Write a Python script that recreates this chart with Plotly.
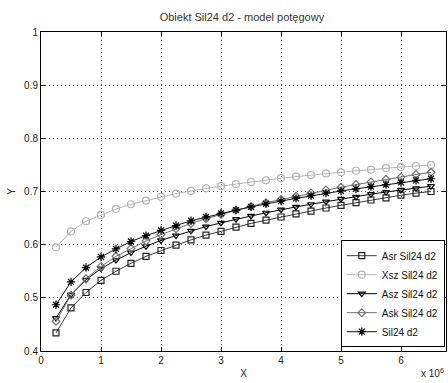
import plotly.graph_objects as go

x_vals = [250000 * k for k in range(1, 27)]

asr = [0.434, 0.481, 0.510, 0.533, 0.550, 0.565, 0.578, 0.589, 0.599, 0.609, 0.618, 0.625, 0.633,
       0.640, 0.646, 0.652, 0.658, 0.663, 0.669, 0.674, 0.679, 0.684, 0.688, 0.693, 0.697, 0.700]
xsz = [0.595, 0.625, 0.644, 0.656, 0.667, 0.676, 0.683, 0.690, 0.696, 0.701, 0.706, 0.710, 0.714,
       0.718, 0.721, 0.725, 0.728, 0.731, 0.734, 0.736, 0.739, 0.741, 0.744, 0.746, 0.748, 0.750]
asz = [0.462, 0.506, 0.534, 0.555, 0.571, 0.585, 0.597, 0.608, 0.617, 0.626, 0.634, 0.641, 0.648,
       0.654, 0.660, 0.666, 0.671, 0.676, 0.681, 0.686, 0.690, 0.695, 0.699, 0.703, 0.706, 0.710]
ask = [0.456, 0.505, 0.536, 0.559, 0.578, 0.593, 0.607, 0.619, 0.630, 0.640, 0.649, 0.657, 0.665,
       0.672, 0.679, 0.685, 0.691, 0.697, 0.703, 0.708, 0.713, 0.718, 0.723, 0.727, 0.732, 0.736]
sil = [0.487, 0.530, 0.557, 0.577, 0.592, 0.606, 0.617, 0.627, 0.636, 0.645, 0.652, 0.659, 0.665,
       0.671, 0.677, 0.682, 0.687, 0.692, 0.697, 0.701, 0.705, 0.709, 0.713, 0.717, 0.721, 0.724]

names = ["Asr Sil24 d2", "Xsz Sil24 d2", "Asz Sil24 d2", "Ask Sil24 d2", "Sil24 d2"]
x_ticks = [0, 1000000, 2000000, 3000000, 4000000, 5000000, 6000000]
x_tick_labels = ["0", "1", "2", "3", "4", "5", "6"]
y_ticks = [0.4, 0.5, 0.6, 0.7, 0.8, 0.9, 1.0]
y_tick_labels = ["0.4", "0.5", "0.6", "0.7", "0.8", "0.9", "1"]

styles = [
    dict(line="#3a3a3a", msym="square-open", mcol="#222222", msize=6),
    dict(line="#b4b4b4", msym="circle-open", mcol="#b4b4b4", msize=7),
    dict(line="#000000", msym="triangle-down-open", mcol="#000000", msize=6),
    dict(line="#6e6e6e", msym="diamond-open", mcol="#6e6e6e", msize=6),
    dict(line="#111111", msym="asterisk-open", mcol="#000000", msize=7),
]

fig = go.Figure()
for name, ys, st in zip(names, [asr, xsz, asz, ask, sil], styles):
    fig.add_trace(go.Scatter(
        x=x_vals, y=ys, name=name, mode="lines+markers",
        line=dict(color=st["line"], width=1),
        marker=dict(symbol=st["msym"], size=st["msize"], color=st["mcol"],
                    line=dict(color=st["mcol"], width=1.2)),
    ))

font_family = "Liberation Sans, Arial, sans-serif"
axis_common = dict(
    showline=True, linecolor="black", linewidth=1, mirror="ticks",
    ticks="inside", ticklen=4, tickcolor="black",
    showgrid=True, gridcolor="#555555", gridwidth=1, griddash="1px,3px",
    zeroline=False, tickfont=dict(size=10, color="#222222", family=font_family),
)

fig.update_layout(
    width=448, height=383,
    margin=dict(l=41, r=2, t=32, b=32),
    paper_bgcolor="white", plot_bgcolor="white",
    font=dict(family=font_family, size=10, color="#222222"),
    title=dict(text="Obiekt Sil24 d2 - model potęgowy", x=0.54, xanchor="center",
               y=0.955, yanchor="middle", font=dict(size=11, color="#333333")),
    xaxis=dict(range=[0, 6750000], tickvals=x_ticks, ticktext=x_tick_labels,
               title=dict(text="X", standoff=4, font=dict(size=10)), **axis_common),
    yaxis=dict(range=[0.4, 1.0], tickvals=y_ticks, ticktext=y_tick_labels,
               title=dict(text="Y", standoff=6, font=dict(size=10)), **axis_common),
    legend=dict(x=0.997, y=0.012, xanchor="right", yanchor="bottom",
                bgcolor="white", bordercolor="black", borderwidth=1,
                font=dict(size=10, color="#111111", family=font_family),
                tracegroupgap=0, itemwidth=30),
    showlegend=True,
)

fig.add_annotation(text="x 10<sup>6</sup>", xref="paper", yref="paper",
                   x=1.0, y=-0.045, xanchor="right", yanchor="top", showarrow=False,
                   font=dict(size=10, color="#222222"))

fig.write_html("out.html")
